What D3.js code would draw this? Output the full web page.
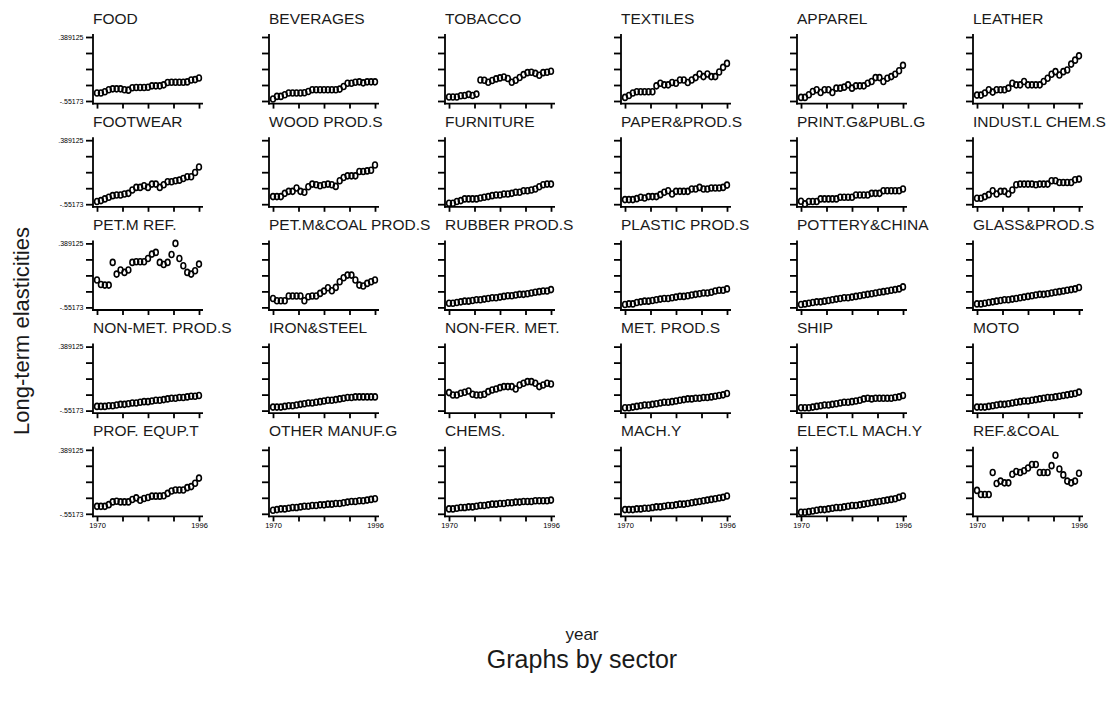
<!DOCTYPE html>
<html lang="en">
<head>
<meta charset="UTF-8" />
<title>Long-term elasticities by sector</title>
<script src="https://d3js.org/d3.v7.min.js"></script>
<style>
  body { margin: 0; background: #ffffff; }
  svg { display: block; font-family: 'Liberation Sans', Arial, sans-serif; }
</style>
</head>
<body>
<svg id="chart" width="1116" height="715"></svg>
<script>
// years on the x axis
const years = [1970,1971,1972,1973,1974,1975,1976,1977,1978,1979,1980,1981,1982,
               1983,1984,1985,1986,1987,1988,1989,1990,1991,1992,1993,1994,1995,1996];
const xLabels = [1970, 1996];
const yMin = -0.55173, yMax = 0.389125;
const yLabels = ["-.55173", ".389125"];

const sectors = [
  "FOOD", "BEVERAGES", "TOBACCO", "TEXTILES", "APPAREL", "LEATHER",
  "FOOTWEAR", "WOOD PROD.S", "FURNITURE", "PAPER&PROD.S", "PRINT.G&PUBL.G", "INDUST.L CHEM.S",
  "PET.M REF.", "PET.M&COAL PROD.S", "RUBBER PROD.S", "PLASTIC PROD.S", "POTTERY&CHINA", "GLASS&PROD.S",
  "NON-MET. PROD.S", "IRON&STEEL", "NON-FER. MET.", "MET. PROD.S", "SHIP", "MOTO",
  "PROF. EQUP.T", "OTHER MANUF.G", "CHEMS.", "MACH.Y", "ELECT.L MACH.Y", "REF.&COAL"
];

const food = [-0.435,-0.435,-0.416,-0.387,-0.373,-0.373,-0.373,-0.387,-0.392,-0.358,-0.353,-0.353,-0.353,-0.349,-0.329,-0.329,-0.329,-0.314,-0.280,-0.276,-0.276,-0.276,-0.276,-0.271,-0.242,-0.237,-0.213];
const beverages = [-0.523,-0.484,-0.484,-0.460,-0.435,-0.435,-0.435,-0.435,-0.430,-0.411,-0.387,-0.387,-0.387,-0.387,-0.387,-0.387,-0.387,-0.377,-0.339,-0.290,-0.290,-0.275,-0.270,-0.285,-0.270,-0.270,-0.270];
const tobacco = [-0.494,-0.494,-0.494,-0.475,-0.470,-0.455,-0.470,-0.450,-0.242,-0.246,-0.276,-0.251,-0.227,-0.212,-0.198,-0.222,-0.276,-0.246,-0.207,-0.164,-0.135,-0.130,-0.145,-0.174,-0.135,-0.130,-0.115];
const textiles = [-0.499,-0.470,-0.435,-0.416,-0.416,-0.416,-0.416,-0.416,-0.329,-0.290,-0.314,-0.314,-0.280,-0.290,-0.242,-0.242,-0.280,-0.242,-0.208,-0.154,-0.193,-0.154,-0.193,-0.193,-0.125,-0.057,0.001];
const apparel = [-0.499,-0.499,-0.460,-0.411,-0.387,-0.426,-0.387,-0.387,-0.426,-0.363,-0.363,-0.348,-0.314,-0.363,-0.329,-0.329,-0.329,-0.290,-0.266,-0.208,-0.208,-0.266,-0.217,-0.193,-0.159,-0.106,-0.028];
const leather = [-0.465,-0.465,-0.435,-0.387,-0.421,-0.387,-0.387,-0.387,-0.363,-0.290,-0.314,-0.314,-0.266,-0.314,-0.314,-0.314,-0.314,-0.266,-0.217,-0.159,-0.120,-0.169,-0.120,-0.096,-0.009,0.049,0.112];
const footwear = [-0.513,-0.499,-0.474,-0.450,-0.426,-0.416,-0.416,-0.402,-0.392,-0.343,-0.305,-0.305,-0.280,-0.305,-0.256,-0.256,-0.305,-0.266,-0.222,-0.222,-0.208,-0.198,-0.174,-0.149,-0.149,-0.086,-0.004];
const wood = [-0.440,-0.440,-0.440,-0.392,-0.363,-0.363,-0.314,-0.363,-0.377,-0.295,-0.256,-0.266,-0.280,-0.266,-0.256,-0.266,-0.290,-0.208,-0.159,-0.135,-0.135,-0.135,-0.072,-0.072,-0.062,-0.052,0.025];
const furniture = [-0.537,-0.537,-0.513,-0.499,-0.474,-0.474,-0.474,-0.474,-0.460,-0.450,-0.440,-0.426,-0.416,-0.416,-0.402,-0.402,-0.392,-0.377,-0.377,-0.353,-0.353,-0.343,-0.329,-0.295,-0.266,-0.256,-0.256];
const paper = [-0.484,-0.484,-0.484,-0.470,-0.450,-0.460,-0.440,-0.440,-0.440,-0.411,-0.377,-0.353,-0.402,-0.363,-0.363,-0.363,-0.363,-0.329,-0.329,-0.305,-0.329,-0.329,-0.314,-0.314,-0.314,-0.305,-0.271];
const printing = [-0.508,-0.547,-0.513,-0.513,-0.513,-0.474,-0.474,-0.474,-0.474,-0.474,-0.450,-0.450,-0.450,-0.450,-0.416,-0.416,-0.416,-0.416,-0.392,-0.392,-0.392,-0.353,-0.353,-0.353,-0.353,-0.353,-0.329];
const indChem = [-0.465,-0.465,-0.440,-0.411,-0.353,-0.402,-0.363,-0.363,-0.402,-0.343,-0.266,-0.256,-0.256,-0.256,-0.256,-0.266,-0.256,-0.256,-0.256,-0.208,-0.208,-0.232,-0.232,-0.232,-0.232,-0.193,-0.183];
const petRef = [-0.150,-0.214,-0.224,-0.224,0.110,-0.062,-0.003,-0.037,-0.003,0.110,0.119,0.119,0.119,0.168,0.232,0.257,0.110,0.080,0.110,0.227,0.389125,0.168,0.061,-0.037,-0.062,-0.013,0.085];
const petCoal = [-0.420,-0.454,-0.454,-0.454,-0.385,-0.385,-0.385,-0.385,-0.454,-0.395,-0.385,-0.385,-0.346,-0.312,-0.263,-0.307,-0.258,-0.175,-0.116,-0.077,-0.077,-0.150,-0.224,-0.238,-0.199,-0.175,-0.150];
const rubber = [-0.49,-0.49,-0.48,-0.47,-0.46,-0.46,-0.45,-0.44,-0.44,-0.43,-0.42,-0.41,-0.41,-0.40,-0.39,-0.38,-0.38,-0.37,-0.36,-0.36,-0.35,-0.34,-0.33,-0.32,-0.31,-0.31,-0.29];
const plastic = [-0.51,-0.50,-0.50,-0.48,-0.47,-0.46,-0.46,-0.45,-0.44,-0.43,-0.42,-0.42,-0.41,-0.40,-0.39,-0.39,-0.38,-0.37,-0.36,-0.35,-0.34,-0.34,-0.33,-0.31,-0.30,-0.30,-0.28];
const pottery = [-0.51,-0.50,-0.49,-0.48,-0.47,-0.47,-0.46,-0.45,-0.44,-0.43,-0.42,-0.41,-0.41,-0.40,-0.39,-0.38,-0.37,-0.36,-0.35,-0.34,-0.33,-0.32,-0.31,-0.30,-0.29,-0.28,-0.25];
const glass = [-0.50,-0.50,-0.49,-0.48,-0.47,-0.46,-0.45,-0.44,-0.44,-0.43,-0.42,-0.41,-0.40,-0.39,-0.38,-0.37,-0.36,-0.36,-0.35,-0.34,-0.33,-0.32,-0.31,-0.30,-0.29,-0.28,-0.26];
const nonMet = [-0.49,-0.49,-0.49,-0.48,-0.48,-0.47,-0.46,-0.46,-0.45,-0.44,-0.44,-0.43,-0.42,-0.42,-0.41,-0.40,-0.40,-0.39,-0.38,-0.37,-0.37,-0.36,-0.36,-0.35,-0.34,-0.34,-0.33];
const iron = [-0.50,-0.50,-0.50,-0.49,-0.48,-0.48,-0.47,-0.46,-0.45,-0.44,-0.44,-0.43,-0.42,-0.41,-0.40,-0.40,-0.39,-0.38,-0.37,-0.36,-0.36,-0.35,-0.35,-0.35,-0.35,-0.35,-0.35];
const nonFer = [-0.287,-0.322,-0.322,-0.297,-0.282,-0.263,-0.312,-0.322,-0.322,-0.312,-0.273,-0.248,-0.234,-0.214,-0.199,-0.199,-0.199,-0.234,-0.175,-0.150,-0.126,-0.126,-0.150,-0.199,-0.175,-0.150,-0.160];
const metProd = [-0.51,-0.51,-0.50,-0.49,-0.48,-0.47,-0.47,-0.46,-0.45,-0.44,-0.43,-0.43,-0.42,-0.41,-0.40,-0.39,-0.38,-0.38,-0.37,-0.37,-0.36,-0.36,-0.35,-0.34,-0.33,-0.32,-0.30];
const ship = [-0.51,-0.51,-0.51,-0.50,-0.49,-0.48,-0.47,-0.47,-0.46,-0.45,-0.44,-0.43,-0.43,-0.42,-0.41,-0.40,-0.38,-0.37,-0.38,-0.37,-0.37,-0.37,-0.37,-0.37,-0.36,-0.35,-0.33];
const moto = [-0.50,-0.50,-0.50,-0.49,-0.48,-0.47,-0.46,-0.46,-0.45,-0.44,-0.43,-0.42,-0.41,-0.41,-0.40,-0.39,-0.38,-0.37,-0.36,-0.36,-0.35,-0.34,-0.33,-0.32,-0.31,-0.30,-0.28];
const profEq = [-0.442,-0.442,-0.442,-0.417,-0.377,-0.367,-0.377,-0.377,-0.377,-0.342,-0.317,-0.352,-0.327,-0.312,-0.292,-0.292,-0.292,-0.287,-0.252,-0.217,-0.202,-0.202,-0.202,-0.167,-0.152,-0.102,-0.027];
const otherMan = [-0.50,-0.49,-0.48,-0.48,-0.47,-0.46,-0.46,-0.45,-0.44,-0.44,-0.43,-0.43,-0.42,-0.42,-0.41,-0.41,-0.40,-0.40,-0.39,-0.38,-0.37,-0.37,-0.36,-0.36,-0.35,-0.34,-0.33];
const chems = [-0.48,-0.48,-0.47,-0.46,-0.46,-0.45,-0.45,-0.44,-0.43,-0.43,-0.42,-0.41,-0.41,-0.40,-0.40,-0.39,-0.39,-0.38,-0.38,-0.37,-0.37,-0.37,-0.36,-0.36,-0.36,-0.36,-0.35];
const mach = [-0.49,-0.49,-0.49,-0.48,-0.48,-0.47,-0.47,-0.46,-0.45,-0.45,-0.44,-0.43,-0.43,-0.42,-0.41,-0.41,-0.40,-0.39,-0.38,-0.37,-0.36,-0.35,-0.34,-0.33,-0.32,-0.31,-0.29];
const elect = [-0.53,-0.53,-0.52,-0.51,-0.50,-0.49,-0.49,-0.48,-0.47,-0.46,-0.46,-0.45,-0.44,-0.43,-0.43,-0.42,-0.41,-0.40,-0.39,-0.38,-0.37,-0.36,-0.35,-0.34,-0.33,-0.31,-0.29];
const refCoal = [-0.208,-0.269,-0.269,-0.269,0.055,-0.107,-0.071,-0.097,-0.097,0.030,0.070,0.055,0.081,0.121,0.172,0.172,0.055,0.055,0.055,0.156,0.308,0.106,0.020,-0.071,-0.097,-0.071,0.045];

const series = [food, beverages, tobacco, textiles, apparel, leather,
  footwear, wood, furniture, paper, printing, indChem,
  petRef, petCoal, rubber, plastic, pottery, glass,
  nonMet, iron, nonFer, metProd, ship, moto,
  profEq, otherMan, chems, mach, elect, refCoal];

const svg = d3.select("#chart");
svg.append("rect").attr("width", 1116).attr("height", 715).attr("fill", "#fff");

const ncol = 6, nrow = 5;
const colStep = 176, rowStep = 103.2;
const left0 = 93, top0 = 37;
const plotH = 64;

const x = d3.scaleLinear().domain([1970, 1996]).range([4, 106]);
const y = d3.scaleLinear().domain([yMin, yMax]).range([plotH, 0]);
const yTickVals = d3.range(5).map(i => yMin + i * (yMax - yMin) / 4);
const xTickVals = d3.range(5).map(i => 1970 + i * 26 / 4);

sectors.forEach((name, i) => {
  const r = Math.floor(i / ncol), c = i % ncol;
  const g = svg.append("g")
    .attr("transform", `translate(${left0 + c * colStep},${top0 + r * rowStep})`);

  g.append("text")
    .attr("x", 0).attr("y", -13.5)
    .attr("font-size", "15.5px")
    .attr("fill", "#1a1a1a")
    .text(name);

  // y axis
  const yAxis = d3.axisLeft(y).tickValues(yTickVals).tickSize(7).tickSizeOuter(0)
    .tickFormat((d, k) => c === 0 && (k === 0 || k === 4) ? yLabels[k === 0 ? 0 : 1] : "");
  const ya = g.append("g").call(yAxis);
  ya.select(".domain").remove();
  ya.selectAll(".tick line").attr("stroke", "#000").attr("stroke-width", 1.8);
  ya.selectAll(".tick text").attr("font-size", "7px").attr("fill", "#000")
    .attr("x", -9.5).attr("font-family", "'Liberation Sans', Arial, sans-serif");

  // x axis
  const xAxis = d3.axisBottom(x).tickValues(xTickVals).tickSize(5).tickSizeOuter(0)
    .tickFormat(d => r === nrow - 1 && xLabels.includes(d) ? String(d) : "");
  const xa = g.append("g").attr("transform", `translate(0,${plotH + 2.6})`).call(xAxis);
  xa.select(".domain").remove();
  xa.selectAll(".tick line").attr("stroke", "#000").attr("stroke-width", 1.8);
  xa.selectAll(".tick text").attr("font-size", "7.5px").attr("fill", "#000")
    .attr("y", 6).attr("font-family", "'Liberation Sans', Arial, sans-serif");

  // axis lines
  g.append("line").attr("x1", 0).attr("x2", 0).attr("y1", -3).attr("y2", plotH + 3.5)
    .attr("stroke", "#000").attr("stroke-width", 1.8);
  g.append("line").attr("x1", -0.9).attr("x2", 110).attr("y1", plotH + 2.6).attr("y2", plotH + 2.6)
    .attr("stroke", "#000").attr("stroke-width", 1.8);

  // markers
  g.selectAll("ellipse")
    .data(series[i].map((v, k) => ({ year: years[k], v })))
    .enter().append("ellipse")
    .attr("cx", d => x(d.year))
    .attr("cy", d => y(d.v))
    .attr("rx", 2.4).attr("ry", 3)
    .attr("fill", "none")
    .attr("stroke", "#000")
    .attr("stroke-width", 1.6);
});

svg.append("text")
  .attr("transform", "translate(29,331) rotate(-90)")
  .attr("text-anchor", "middle")
  .attr("font-size", "22px").attr("fill", "#1a1a1a")
  .text("Long-term elasticities");

svg.append("text")
  .attr("x", 582).attr("y", 640)
  .attr("text-anchor", "middle")
  .attr("font-size", "17px").attr("fill", "#1a1a1a")
  .text("year");

svg.append("text")
  .attr("x", 582).attr("y", 668)
  .attr("text-anchor", "middle")
  .attr("font-size", "25px").attr("fill", "#1a1a1a")
  .text("Graphs by sector");
</script>
</body>
</html>
